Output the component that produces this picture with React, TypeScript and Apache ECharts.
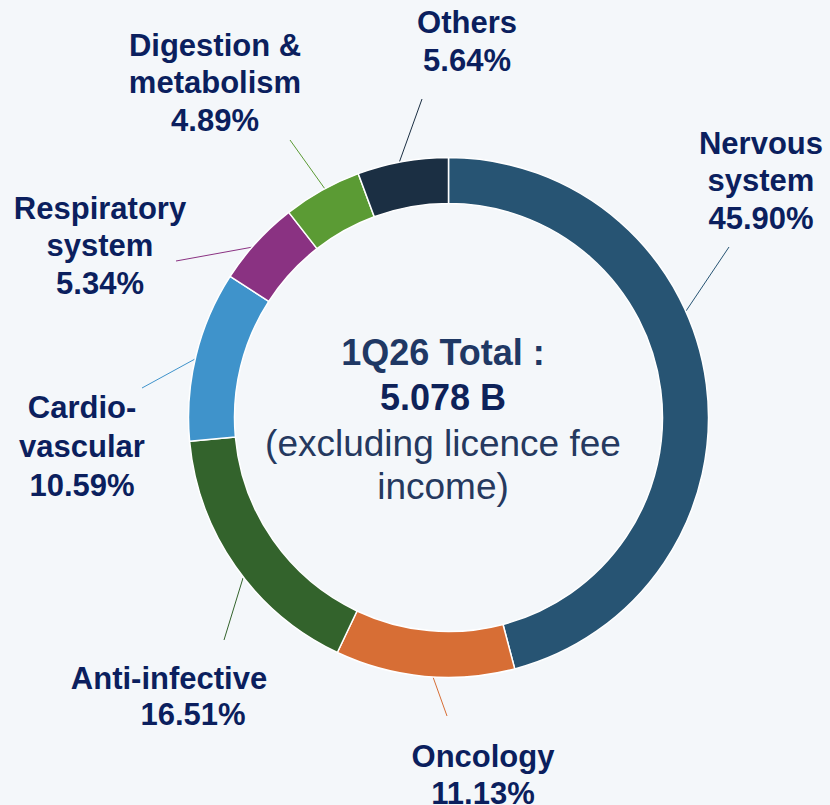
import React, { useEffect, useRef } from "react";
import * as echarts from "echarts";

// ---- data ----
const categories = [
  "Nervous system",
  "Oncology",
  "Anti-infective",
  "Cardio-vascular",
  "Respiratory system",
  "Digestion & metabolism",
  "Others",
];
const shares = [45.9, 11.13, 16.51, 10.59, 5.34, 4.89, 5.64];
const labelNameLines = [
  ["Nervous", "system"],
  ["Oncology"],
  ["Anti-infective"],
  ["Cardio-", "vascular"],
  ["Respiratory", "system"],
  ["Digestion &", "metabolism"],
  ["Others"],
];
const centerLines = ["1Q26 Total :", "5.078 B", "(excluding licence fee", "income)"];

// ---- styles / layout ----
const colors = ["#275473", "#d76e35", "#33632c", "#3f93cb", "#8a3282", "#5b9b34", "#1b2f43"];
const labelColor = "#0b1f5e";
const FONT = '"Liberation Sans", Arial, sans-serif';
// label block: [x center, y of first line center, line spacing, x shift of last (percentage) line]
const labelLayout: [number, number, number, number][] = [
  [761, 143, 37.5, 0],
  [483, 756, 37.5, 0],
  [169, 678, 36.5, 24],
  [82, 407, 39, 0],
  [100, 208, 37.5, 0],
  [215, 45, 37.5, 0],
  [467, 22, 38, 0],
];
// leader lines [x1, y1, x2, y2]
const leaders: [number, number, number, number][] = [
  [686, 311, 729, 247],
  [433, 677, 447, 716],
  [243, 578, 224, 640],
  [195, 359, 142, 388],
  [253, 247, 176, 261],
  [325, 189, 290, 140],
  [399, 163, 422, 99],
];
const centerX = 443;
const centerYs = [352, 397, 443, 486];

export default function App() {
  const ref = useRef<HTMLDivElement>(null);
  useEffect(() => {
    document.body.style.margin = "0";
    if (!ref.current) return;
    const chart = echarts.init(ref.current, undefined, { renderer: "svg" });

    const graphic: any[] = [];
    categories.forEach((_, i) => {
      const [lx, ly, lh, pctShift] = labelLayout[i];
      const lines = [...labelNameLines[i], shares[i].toFixed(2) + "%"];
      lines.forEach((t, j) => {
        const isPct = j === lines.length - 1;
        graphic.push({
          type: "text",
          x: lx + (isPct ? pctShift : 0),
          y: ly + j * lh,
          silent: true,
          style: {
            text: t,
            fill: labelColor,
            font: `bold 31px ${FONT}`,
            align: "center",
            textAlign: "center",
            verticalAlign: "middle",
            textVerticalAlign: "middle",
          },
        });
      });
      const [x1, y1, x2, y2] = leaders[i];
      graphic.push({
        type: "line",
        silent: true,
        shape: { x1, y1, x2, y2 },
        style: { stroke: colors[i], lineWidth: 1 },
      });
    });
    centerLines.forEach((t, j) => {
      graphic.push({
        type: "text",
        x: centerX,
        y: centerYs[j],
        silent: true,
        style: {
          text: t,
          fill: j === 0 ? "#1f3864" : j === 1 ? "#0e2259" : "#25395f",
          font: `${j < 2 ? "bold 36px" : "37px"} ${FONT}`,
          align: "center",
          textAlign: "center",
          verticalAlign: "middle",
          textVerticalAlign: "middle",
        },
      });
    });

    chart.setOption({
      animation: false,
      backgroundColor: "#f4f7fa",
      series: [
        {
          type: "pie",
          center: [448.5, 417.5],
          radius: [214, 260],
          startAngle: 90,
          clockwise: true,
          silent: true,
          label: { show: false },
          labelLine: { show: false },
          itemStyle: { borderColor: "#ffffff", borderWidth: 1.5 },
          data: categories.map((c, i) => ({
            name: c,
            value: shares[i],
            itemStyle: { color: colors[i] },
          })),
        },
      ],
      graphic,
    });
    return () => chart.dispose();
  }, []);
  return <div ref={ref} style={{ width: 830, height: 805, overflow: "hidden" }} />;
}
